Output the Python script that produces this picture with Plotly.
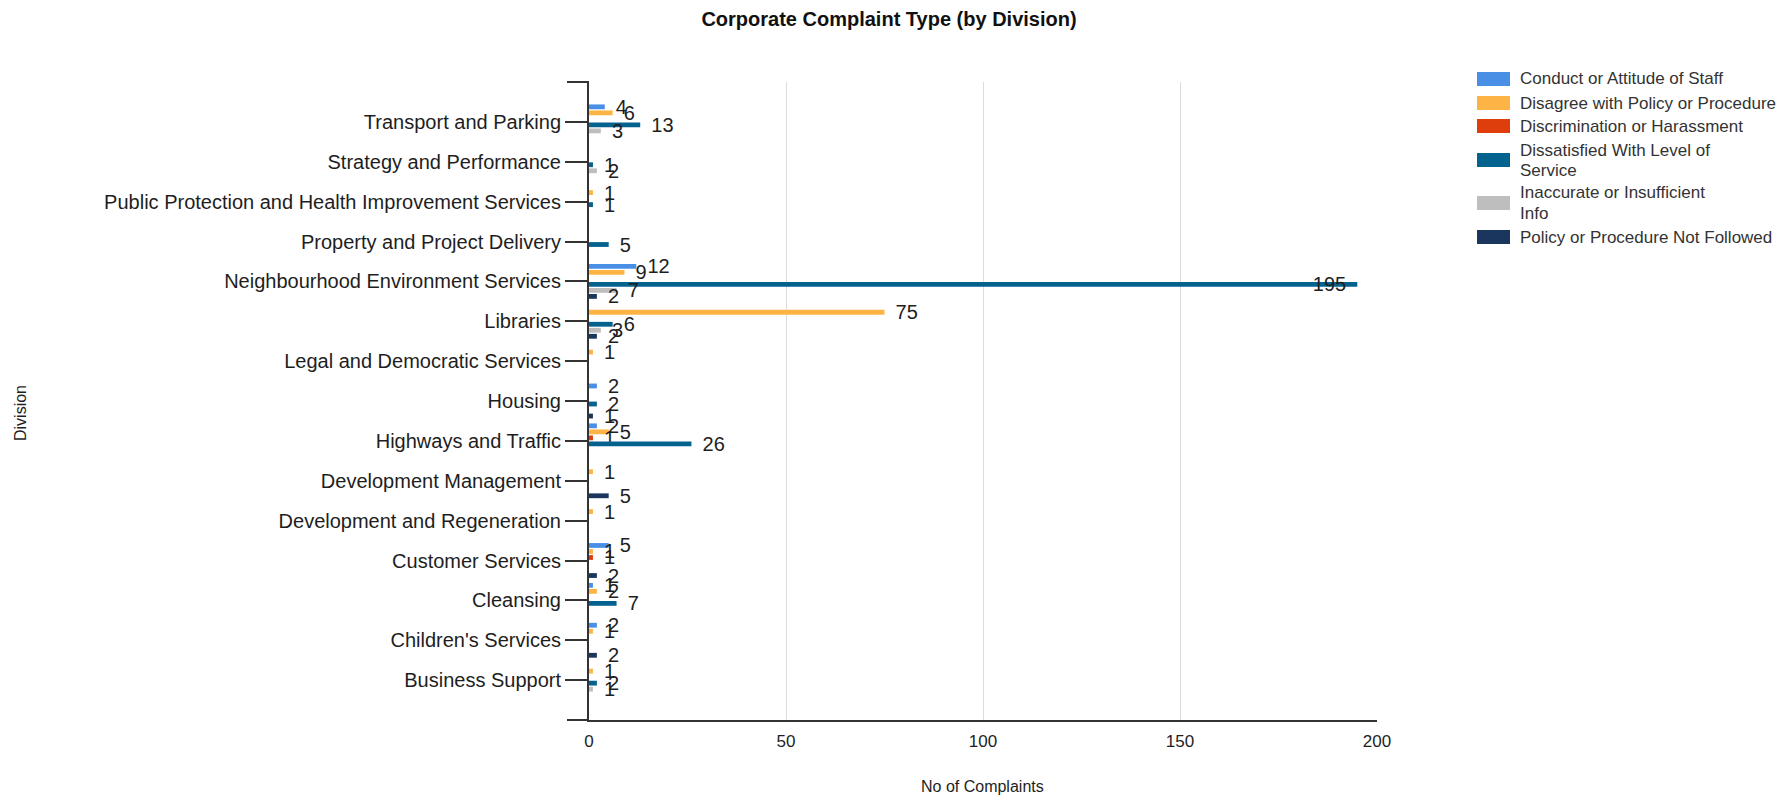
import plotly.graph_objects as go

# Divisions, listed top to bottom
divisions = [
    "Transport and Parking",
    "Strategy and Performance",
    "Public Protection and Health Improvement Services",
    "Property and Project Delivery",
    "Neighbourhood Environment Services",
    "Libraries",
    "Legal and Democratic Services",
    "Housing",
    "Highways and Traffic",
    "Development Management",
    "Development and Regeneration",
    "Customer Services",
    "Cleansing",
    "Children's Services",
    "Business Support",
]

# Complaint counts per type (None = no complaints of that type)
conduct = [4, None, None, None, 12, None, None, 2, 2, None, None, 5, 1, 2, None]
disagree = [6, None, 1, None, 9, 75, 1, None, 5, 1, 1, 1, 2, 1, 1]
discrimination = [None, None, None, None, None, None, None, None, 1, None, None, 1, None, None, None]
dissatisfied = [13, 1, 1, 5, 195, 6, None, 2, 26, None, None, None, 7, None, 2]
inaccurate = [3, 2, None, None, 7, 3, None, None, None, None, None, None, None, None, 1]
not_followed = [None, None, None, None, 2, 2, None, 1, None, 5, None, 2, None, 2, None]

series_names = [
    "Conduct or Attitude of Staff",
    "Disagree with Policy or Procedure",
    "Discrimination or Harassment",
    "Dissatisfied With Level of Service",
    "Inaccurate or Insufficient Info",
    "Policy or Procedure Not Followed",
]
legend_lines = [
    ["Conduct or Attitude of Staff"],
    ["Disagree with Policy or Procedure"],
    ["Discrimination or Harassment"],
    ["Dissatisfied With Level of", "Service"],
    ["Inaccurate or Insufficient", "Info"],
    ["Policy or Procedure Not Followed"],
]
series_values = [conduct, disagree, discrimination, dissatisfied, inaccurate, not_followed]
colors = ["#4A8FE6", "#FDB444", "#DE3E0C", "#04628E", "#BEBEBE", "#1B365E"]

FONT = "Liberation Sans, Arial, sans-serif"
TEXT = "#1e1e1e"

# plot-area geometry in pixels
W_FIG, H_FIG = 1791, 800
L, R, T, B = 589, 1377, 82, 720
PW, PH = R - L, B - T


def px_x(x):
    return (x - L) / PW


def px_y(y):
    return (B - y) / PH


fig = go.Figure()
for name, vals, col in zip(series_names, series_values, colors):
    inside = [v is not None and v > 150 for v in vals]
    fig.add_trace(go.Bar(
        name=name,
        y=divisions,
        x=vals,
        orientation="h",
        marker=dict(color=col, line=dict(width=0)),
        text=[("" if v is None else (f"{v}\u00a0\u00a0" if ins else f"\u00a0\u00a0{v}"))
              for v, ins in zip(vals, inside)],
        textposition=["inside" if ins else "outside" for ins in inside],
        insidetextanchor="end",
        textangle=0,
        constraintext="none",
        cliponaxis=False,
        textfont=dict(family=FONT, size=20, color=TEXT),
        showlegend=False,
        hoverinfo="x+y+name",
    ))

shapes = [
    # left stubs of the frame: extension of x-axis line and top cap
    dict(type="line", xref="paper", yref="paper", x0=px_x(L - 22), x1=0, y0=0, y1=0,
         line=dict(color="#333333", width=2)),
    dict(type="line", xref="paper", yref="paper", x0=px_x(L - 22), x1=0, y0=1, y1=1,
         line=dict(color="#333333", width=2)),
]
annotations = [
    dict(text="Division", xref="paper", yref="paper", x=px_x(20), y=px_y(413),
         textangle=-90, showarrow=False, font=dict(family=FONT, size=16, color=TEXT),
         xanchor="center", yanchor="middle"),
    dict(text="No of Complaints", xref="paper", yref="paper", x=px_x(982), y=px_y(786),
         showarrow=False, font=dict(family=FONT, size=16, color=TEXT),
         xanchor="center", yanchor="middle"),
]

# legend drawn as swatches + labels
sw_x0, sw_x1, txt_x = 1477, 1510, 1518
row_centres = [79, 103, 126, 160, 203, 237]
for lines, col, yc in zip(legend_lines, colors, row_centres):
    shapes.append(dict(type="rect", xref="paper", yref="paper",
                       x0=px_x(sw_x0), x1=px_x(sw_x1), y0=px_y(yc + 7), y1=px_y(yc - 7),
                       fillcolor=col, line=dict(width=0)))
    n = len(lines)
    for k, ln in enumerate(lines):
        ty = yc + (k - (n - 1) / 2) * 20
        annotations.append(dict(text=ln, xref="paper", yref="paper", x=px_x(txt_x), y=px_y(ty),
                                showarrow=False, xanchor="left", yanchor="middle",
                                font=dict(family=FONT, size=17, color="#333333")))

fig.update_layout(
    width=W_FIG, height=H_FIG,
    margin=dict(l=L, r=W_FIG - R, t=T, b=H_FIG - B, pad=0),
    paper_bgcolor="white", plot_bgcolor="white",
    barmode="group", bargap=0.095, bargroupgap=0.2,
    title=dict(text="<b>Corporate Complaint Type (by Division)</b>",
               xref="container", yref="container", x=889 / W_FIG, y=1 - 19 / H_FIG,
               xanchor="center", yanchor="middle",
               font=dict(family=FONT, size=20, color="#111111")),
    xaxis=dict(range=[0, 200], tickvals=[0, 50, 100, 150, 200],
               showgrid=True, gridcolor="#dcdcdc", gridwidth=1, zeroline=False,
               showline=True, linecolor="#333333", linewidth=2,
               ticks="outside", ticklen=5, tickcolor="rgba(0,0,0,0)",
               tickfont=dict(family=FONT, size=17, color=TEXT), automargin=False),
    yaxis=dict(type="category", categoryorder="array", categoryarray=divisions,
               range=[len(divisions), -1],
               showgrid=False, zeroline=False,
               showline=True, linecolor="#333333", linewidth=2,
               ticks="outside", ticklen=22, tickwidth=2, tickcolor="#333333",
               tickfont=dict(family=FONT, size=20, color=TEXT), automargin=False),
    shapes=shapes,
    annotations=annotations,
)

fig.write_html("out.html")
